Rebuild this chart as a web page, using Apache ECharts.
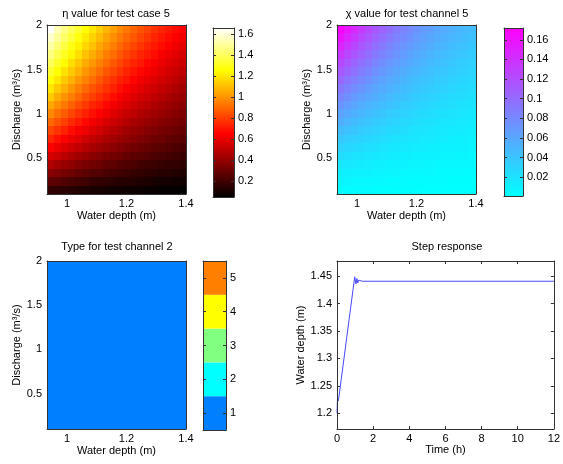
<!DOCTYPE html>
<html>
<head>
<meta charset="utf-8">
<script src="https://cdn.jsdelivr.net/npm/echarts@6/dist/echarts.min.js"></script>
<style>
html, body { margin: 0; padding: 0; background: #fff; }
#chart { width: 563px; height: 464px; }
</style>
</head>
<body>
<div id="chart"></div>
<script>
// Cell centres of the parameter grid
const depthCentres = [0.945, 0.968, 0.992, 1.015, 1.038, 1.062, 1.085, 1.108, 1.132, 1.155,
                      1.178, 1.202, 1.225, 1.248, 1.272, 1.295, 1.318, 1.342, 1.365, 1.388];
const dischargeCentres = [0.148, 0.243, 0.338, 0.433, 0.528, 0.623, 0.718, 0.813, 0.908, 1.003,
                          1.098, 1.193, 1.288, 1.383, 1.478, 1.573, 1.668, 1.763, 1.858, 1.953];
const mapXLimits = [0.933, 1.4];
const mapYLimits = [0.1, 2];

// eta, one row per discharge (lowest first), one column per depth
const etaRows = [
  [0.17,0.16,0.15,0.14,0.13,0.12,0.11,0.11,0.10,0.09,0.09,0.08,0.08,0.08,0.07,0.07,0.06,0.06,0.06,0.05],
  [0.27,0.26,0.24,0.22,0.21,0.20,0.18,0.17,0.16,0.15,0.14,0.14,0.13,0.12,0.12,0.11,0.10,0.10,0.09,0.09],
  [0.37,0.35,0.33,0.31,0.29,0.27,0.25,0.24,0.22,0.21,0.20,0.19,0.18,0.17,0.16,0.15,0.14,0.14,0.13,0.12],
  [0.47,0.44,0.41,0.39,0.36,0.34,0.32,0.30,0.28,0.27,0.25,0.24,0.23,0.21,0.20,0.19,0.18,0.17,0.17,0.16],
  [0.56,0.53,0.49,0.46,0.43,0.41,0.38,0.36,0.34,0.32,0.31,0.29,0.27,0.26,0.25,0.23,0.22,0.21,0.20,0.19],
  [0.65,0.61,0.57,0.54,0.51,0.48,0.45,0.42,0.40,0.38,0.36,0.34,0.32,0.30,0.29,0.27,0.26,0.25,0.23,0.22],
  [0.74,0.69,0.65,0.61,0.58,0.54,0.51,0.48,0.45,0.43,0.41,0.39,0.37,0.35,0.33,0.31,0.30,0.28,0.27,0.26],
  [0.82,0.77,0.73,0.68,0.64,0.61,0.57,0.54,0.51,0.48,0.46,0.43,0.41,0.39,0.37,0.35,0.33,0.32,0.30,0.29],
  [0.90,0.85,0.80,0.75,0.71,0.67,0.63,0.60,0.56,0.53,0.51,0.48,0.45,0.43,0.41,0.39,0.37,0.35,0.34,0.32],
  [0.98,0.92,0.87,0.82,0.77,0.73,0.69,0.65,0.62,0.58,0.55,0.52,0.50,0.47,0.45,0.43,0.41,0.39,0.37,0.35],
  [1.05,0.99,0.94,0.88,0.83,0.79,0.74,0.71,0.67,0.63,0.60,0.57,0.54,0.51,0.49,0.46,0.44,0.42,0.40,0.38],
  [1.13,1.06,1.00,0.95,0.90,0.84,0.80,0.76,0.72,0.68,0.64,0.61,0.58,0.55,0.53,0.50,0.48,0.45,0.43,0.41],
  [1.20,1.13,1.07,1.01,0.95,0.90,0.85,0.81,0.77,0.73,0.69,0.65,0.62,0.59,0.56,0.54,0.51,0.49,0.46,0.44],
  [1.27,1.20,1.13,1.07,1.01,0.96,0.91,0.86,0.81,0.77,0.73,0.70,0.66,0.63,0.60,0.57,0.55,0.52,0.50,0.47],
  [1.33,1.26,1.19,1.13,1.07,1.01,0.96,0.91,0.86,0.82,0.78,0.74,0.70,0.67,0.64,0.61,0.58,0.55,0.53,0.50],
  [1.40,1.32,1.25,1.18,1.12,1.06,1.01,0.96,0.91,0.86,0.82,0.78,0.74,0.71,0.67,0.64,0.61,0.58,0.56,0.53],
  [1.46,1.38,1.31,1.24,1.18,1.11,1.06,1.01,0.95,0.91,0.86,0.82,0.78,0.74,0.71,0.68,0.64,0.61,0.59,0.56],
  [1.52,1.44,1.36,1.29,1.23,1.16,1.11,1.05,1.00,0.95,0.90,0.86,0.82,0.78,0.74,0.71,0.68,0.65,0.62,0.59],
  [1.58,1.50,1.42,1.35,1.28,1.21,1.15,1.10,1.04,0.99,0.94,0.90,0.86,0.82,0.78,0.74,0.71,0.68,0.65,0.62],
  [1.66,1.55,1.47,1.40,1.33,1.26,1.20,1.14,1.08,1.03,0.98,0.94,0.89,0.85,0.81,0.77,0.74,0.71,0.68,0.65]
];

// chi, same layout
const chiRows = [
  [0.004,0.003,0.003,0.003,0.003,0.002,0.002,0.002,0.002,0.002,0.002,0.002,0.001,0.001,0.001,0.001,0.001,0.001,0.001,0.001],
  [0.008,0.007,0.006,0.006,0.005,0.005,0.005,0.004,0.004,0.004,0.003,0.003,0.003,0.003,0.003,0.003,0.002,0.002,0.002,0.002],
  [0.012,0.011,0.010,0.010,0.009,0.008,0.008,0.007,0.007,0.006,0.006,0.005,0.005,0.005,0.004,0.004,0.004,0.004,0.003,0.003],
  [0.018,0.017,0.015,0.014,0.013,0.012,0.011,0.010,0.010,0.009,0.008,0.008,0.007,0.007,0.006,0.006,0.006,0.005,0.005,0.005],
  [0.024,0.022,0.020,0.019,0.017,0.016,0.015,0.014,0.013,0.012,0.011,0.010,0.010,0.009,0.009,0.008,0.008,0.007,0.007,0.006],
  [0.031,0.028,0.026,0.024,0.022,0.021,0.019,0.018,0.016,0.015,0.014,0.013,0.013,0.012,0.011,0.010,0.010,0.009,0.009,0.008],
  [0.038,0.035,0.032,0.030,0.028,0.025,0.024,0.022,0.020,0.019,0.018,0.017,0.015,0.015,0.014,0.013,0.012,0.011,0.011,0.010],
  [0.046,0.042,0.039,0.036,0.033,0.031,0.029,0.026,0.025,0.023,0.021,0.020,0.019,0.017,0.016,0.015,0.014,0.014,0.013,0.012],
  [0.055,0.050,0.046,0.042,0.039,0.036,0.034,0.031,0.029,0.027,0.025,0.023,0.022,0.021,0.019,0.018,0.017,0.016,0.015,0.014],
  [0.063,0.058,0.053,0.049,0.046,0.042,0.039,0.036,0.034,0.031,0.029,0.027,0.026,0.024,0.022,0.021,0.020,0.019,0.018,0.016],
  [0.073,0.067,0.061,0.056,0.052,0.048,0.045,0.042,0.039,0.036,0.034,0.031,0.029,0.027,0.026,0.024,0.023,0.021,0.020,0.019],
  [0.082,0.076,0.069,0.064,0.059,0.055,0.051,0.047,0.044,0.041,0.038,0.035,0.033,0.031,0.029,0.027,0.026,0.024,0.023,0.021],
  [0.092,0.085,0.078,0.072,0.066,0.061,0.057,0.053,0.049,0.046,0.043,0.040,0.037,0.035,0.033,0.031,0.029,0.027,0.025,0.024],
  [0.103,0.094,0.087,0.080,0.074,0.068,0.063,0.059,0.055,0.051,0.047,0.044,0.041,0.039,0.036,0.034,0.032,0.030,0.028,0.027],
  [0.113,0.104,0.096,0.088,0.082,0.075,0.070,0.065,0.060,0.056,0.052,0.049,0.046,0.043,0.040,0.038,0.035,0.033,0.031,0.029],
  [0.124,0.114,0.105,0.097,0.090,0.083,0.077,0.071,0.066,0.062,0.058,0.054,0.050,0.047,0.044,0.041,0.039,0.036,0.034,0.032],
  [0.136,0.125,0.115,0.106,0.098,0.090,0.084,0.078,0.072,0.067,0.063,0.058,0.055,0.051,0.048,0.045,0.042,0.040,0.038,0.035],
  [0.148,0.136,0.125,0.115,0.106,0.098,0.091,0.084,0.078,0.073,0.068,0.064,0.060,0.056,0.052,0.049,0.046,0.043,0.041,0.038],
  [0.160,0.147,0.135,0.124,0.115,0.106,0.098,0.091,0.085,0.079,0.074,0.069,0.064,0.060,0.056,0.053,0.050,0.047,0.044,0.042],
  [0.172,0.158,0.145,0.134,0.124,0.114,0.106,0.099,0.091,0.085,0.080,0.074,0.069,0.065,0.061,0.057,0.054,0.050,0.048,0.045]
];

// flow type class per cell, same layout
const typeRows = [
  [1,1,1,1,1,1,1,1,1,1,1,1,1,1,1,1,1,1,1,1],
  [1,1,1,1,1,1,1,1,1,1,1,1,1,1,1,1,1,1,1,1],
  [1,1,1,1,1,1,1,1,1,1,1,1,1,1,1,1,1,1,1,1],
  [1,1,1,1,1,1,1,1,1,1,1,1,1,1,1,1,1,1,1,1],
  [1,1,1,1,1,1,1,1,1,1,1,1,1,1,1,1,1,1,1,1],
  [1,1,1,1,1,1,1,1,1,1,1,1,1,1,1,1,1,1,1,1],
  [1,1,1,1,1,1,1,1,1,1,1,1,1,1,1,1,1,1,1,1],
  [1,1,1,1,1,1,1,1,1,1,1,1,1,1,1,1,1,1,1,1],
  [1,1,1,1,1,1,1,1,1,1,1,1,1,1,1,1,1,1,1,1],
  [1,1,1,1,1,1,1,1,1,1,1,1,1,1,1,1,1,1,1,1],
  [1,1,1,1,1,1,1,1,1,1,1,1,1,1,1,1,1,1,1,1],
  [1,1,1,1,1,1,1,1,1,1,1,1,1,1,1,1,1,1,1,1],
  [1,1,1,1,1,1,1,1,1,1,1,1,1,1,1,1,1,1,1,1],
  [1,1,1,1,1,1,1,1,1,1,1,1,1,1,1,1,1,1,1,1],
  [1,1,1,1,1,1,1,1,1,1,1,1,1,1,1,1,1,1,1,1],
  [1,1,1,1,1,1,1,1,1,1,1,1,1,1,1,1,1,1,1,1],
  [1,1,1,1,1,1,1,1,1,1,1,1,1,1,1,1,1,1,1,1],
  [1,1,1,1,1,1,1,1,1,1,1,1,1,1,1,1,1,1,1,1],
  [1,1,1,1,1,1,1,1,1,1,1,1,1,1,1,1,1,1,1,1],
  [1,1,1,1,1,1,1,1,1,1,1,1,1,1,1,1,1,1,1,1]
];
const typeLevels = [1, 2, 3, 4, 5];

// step response of the water depth
const stepTime  = [0, 0.03, 0.06, 0.1, 0.98, 1.05, 1.1, 1.15, 1.2, 1.27, 1.4, 12];
const stepDepth = [1.20, 1.23, 1.222, 1.228, 1.449, 1.436, 1.446, 1.438, 1.443, 1.440, 1.441, 1.441];

// tick labels
const mapXTicks = [1, 1.2, 1.4];
const mapYTicks = [0.5, 1, 1.5, 2];
const etaTicks = [0.2, 0.4, 0.6, 0.8, 1, 1.2, 1.4, 1.6];
const chiTicks = [0.02, 0.04, 0.06, 0.08, 0.1, 0.12, 0.14, 0.16];
const stepXTicks = [0, 2, 4, 6, 8, 10, 12];
const stepYTicks = [1.2, 1.25, 1.3, 1.35, 1.4, 1.45];
const stepYLimits = [1.171, 1.478];

// colour maps
const hotMap = ['#000000', '#550000', '#aa0000', '#ff0000', '#ff5500', '#ffaa00', '#ffff00', '#ffff80', '#ffffff'];
const coolMap = ['#00ffff', '#ff00ff'];
const typeColors = ['#0080ff', '#00ffff', '#80ff80', '#ffff00', '#ff8000'];

const FONT = 'Liberation Sans';
const TXT = { fontFamily: FONT, fontSize: 11, color: '#000' };
const LINE = { color: '#333', width: 1 };

// cell boundaries halfway between centres, outer ones on the axis limits
function cellEdges(c, lim) {
  const e = [lim[0]];
  for (let i = 1; i < c.length; i++) e.push((c[i - 1] + c[i]) / 2);
  e.push(lim[1]);
  return e;
}
const xEdges = cellEdges(depthCentres, mapXLimits);
const yEdges = cellEdges(dischargeCentres, mapYLimits);

function flat(rows) { return rows.reduce((a, r) => a.concat(r), []); }
const etaMin = Math.min(...flat(etaRows)), etaMax = Math.max(...flat(etaRows));
const chiMin = Math.min(...flat(chiRows)), chiMax = Math.max(...flat(chiRows));

function gridData(rows) {
  const out = [];
  rows.forEach((row, j) => row.forEach((v, i) => out.push([depthCentres[i], dischargeCentres[j], v, i, j])));
  return out;
}

function cellRenderer(colorOf) {
  return function (params, api) {
    const i = api.value(3), j = api.value(4);
    const a = api.coord([xEdges[i], yEdges[j + 1]]);
    const b = api.coord([xEdges[i + 1], yEdges[j]]);
    const x0 = Math.round(a[0]), y0 = Math.round(a[1]);
    const x1 = Math.round(b[0]), y1 = Math.round(b[1]);
    return { type: 'rect', shape: { x: x0, y: y0, width: x1 - x0, height: y1 - y0 },
             style: { fill: colorOf(api) } };
  };
}

function gradientBar(stops) {
  return function (params, api) {
    const a = api.coord([0, api.value(2)]);
    const b = api.coord([1, api.value(1)]);
    const cs = stops.map((c, k) => ({ offset: k / (stops.length - 1), color: c }));
    return { type: 'rect', shape: { x: a[0], y: a[1], width: b[0] - a[0], height: b[1] - a[1] },
             style: { fill: new echarts.graphic.LinearGradient(0, 1, 0, 0, cs) } };
  };
}

// axis helpers
function frameAxis(extra) {
  return Object.assign({
    type: 'value', z: 10, splitLine: { show: false },
    axisLine: { show: true, onZero: false, lineStyle: LINE },
    axisTick: { show: false }, axisLabel: { show: false }
  }, extra);
}
function labelled(ticks, margin) {
  return { show: true, customValues: ticks, margin: margin, fontFamily: FONT, fontSize: 11, color: '#000' };
}
function inTicks(ticks) {
  return { show: true, inside: true, length: 3, customValues: ticks, lineStyle: LINE };
}

const grids = [
  { left: 47,  top: 25,  width: 139, height: 169 },  // eta map
  { left: 213, top: 28,  width: 21,  height: 169 },  // eta colour bar
  { left: 337, top: 25,  width: 139, height: 169 },  // chi map
  { left: 504, top: 28,  width: 19,  height: 168 },  // chi colour bar
  { left: 47,  top: 261, width: 139, height: 168 },  // type map
  { left: 203, top: 261, width: 23,  height: 169 },  // type colour bar
  { left: 337, top: 261, width: 220, height: 168 }   // step response
];

const xAxes = [], yAxes = [];
function mapAxes(g) {
  xAxes.push(frameAxis({ gridIndex: g, position: 'bottom', min: mapXLimits[0], max: mapXLimits[1],
    axisLabel: labelled(mapXTicks, 4), name: 'Water depth (m)', nameLocation: 'middle',
    nameGap: 16, nameTextStyle: TXT }));
  xAxes.push(frameAxis({ gridIndex: g, position: 'top', min: mapXLimits[0], max: mapXLimits[1] }));
  yAxes.push(frameAxis({ gridIndex: g, position: 'left', min: mapYLimits[0], max: mapYLimits[1],
    axisLabel: labelled(mapYTicks, 5), name: 'Discharge (m³/s)', nameLocation: 'middle',
    nameGap: 25, nameTextStyle: TXT }));
  yAxes.push(frameAxis({ gridIndex: g, position: 'right', min: mapYLimits[0], max: mapYLimits[1] }));
}
function barAxes(g, lo, hi, ticks) {
  xAxes.push(frameAxis({ gridIndex: g, position: 'bottom', min: 0, max: 1 }));
  xAxes.push(frameAxis({ gridIndex: g, position: 'top', min: 0, max: 1 }));
  yAxes.push(frameAxis({ gridIndex: g, position: 'left', min: lo, max: hi, axisTick: inTicks(ticks) }));
  yAxes.push(frameAxis({ gridIndex: g, position: 'right', min: lo, max: hi,
    axisTick: inTicks(ticks), axisLabel: labelled(ticks, 4) }));
}

mapAxes(0);
barAxes(1, etaMin, etaMax, etaTicks);
mapAxes(2);
barAxes(3, chiMin, chiMax, chiTicks);
mapAxes(4);
barAxes(5, typeLevels[0] - 0.5, typeLevels[typeLevels.length - 1] + 0.5, typeLevels);
// step response axes (boxed, ticks inside on every side)
xAxes.push(frameAxis({ gridIndex: 6, position: 'bottom', min: stepXTicks[0], max: stepXTicks[stepXTicks.length - 1],
  axisTick: inTicks(stepXTicks), axisLabel: labelled(stepXTicks, 4),
  name: 'Time (h)', nameLocation: 'middle', nameGap: 14, nameTextStyle: TXT }));
xAxes.push(frameAxis({ gridIndex: 6, position: 'top', min: stepXTicks[0], max: stepXTicks[stepXTicks.length - 1],
  axisTick: inTicks(stepXTicks) }));
yAxes.push(frameAxis({ gridIndex: 6, position: 'left', min: stepYLimits[0], max: stepYLimits[1],
  axisTick: inTicks(stepYTicks), axisLabel: labelled(stepYTicks, 5),
  name: 'Water depth (m)', nameLocation: 'middle', nameGap: 30, nameTextStyle: TXT }));
yAxes.push(frameAxis({ gridIndex: 6, position: 'right', min: stepYLimits[0], max: stepYLimits[1],
  axisTick: inTicks(stepYTicks) }));

const series = [
  { type: 'custom', xAxisIndex: 0, yAxisIndex: 0, data: gridData(etaRows),
    renderItem: cellRenderer(api => api.visual('color')), silent: true },
  { type: 'custom', xAxisIndex: 2, yAxisIndex: 3, data: [[0, etaMin, etaMax]],
    renderItem: gradientBar(hotMap), silent: true },
  { type: 'custom', xAxisIndex: 4, yAxisIndex: 4, data: gridData(chiRows),
    renderItem: cellRenderer(api => api.visual('color')), silent: true },
  { type: 'custom', xAxisIndex: 6, yAxisIndex: 7, data: [[0, chiMin, chiMax]],
    renderItem: gradientBar(coolMap), silent: true },
  { type: 'custom', xAxisIndex: 8, yAxisIndex: 8, data: gridData(typeRows),
    renderItem: cellRenderer(api => typeColors[typeLevels.indexOf(api.value(2))]), silent: true },
  { type: 'custom', xAxisIndex: 10, yAxisIndex: 11, data: typeLevels.map(v => [0, v]),
    renderItem: function (params, api) {
      const v = api.value(1);
      const a = api.coord([0, v + 0.5]);
      const b = api.coord([1, v - 0.5]);
      return { type: 'rect', shape: { x: a[0], y: a[1], width: b[0] - a[0], height: b[1] - a[1] },
               style: { fill: typeColors[typeLevels.indexOf(v)] } };
    }, silent: true },
  { type: 'line', xAxisIndex: 12, yAxisIndex: 12, showSymbol: false, symbol: 'none',
    data: stepTime.map((t, k) => [t, stepDepth[k]]),
    lineStyle: { color: '#4848ff', width: 1 }, silent: true }
];

function titleText(text, x, y) {
  return { type: 'text', x: x, y: y, silent: true,
    style: { text: text, align: 'center', verticalAlign: 'middle', font: '11px "' + FONT + '"', fill: '#000' } };
}

const option = {
  animation: false,
  backgroundColor: '#fff',
  textStyle: { fontFamily: FONT },
  grid: grids,
  xAxis: xAxes,
  yAxis: yAxes,
  visualMap: [
    { type: 'continuous', show: false, seriesIndex: 0, dimension: 2, min: etaMin, max: etaMax, inRange: { color: hotMap } },
    { type: 'continuous', show: false, seriesIndex: 2, dimension: 2, min: chiMin, max: chiMax, inRange: { color: coolMap } }
  ],
  graphic: [
    titleText('η value for test case 5', 116, 14),
    titleText('χ value for test channel 5', 407, 14),
    titleText('Type for test channel 2', 117, 247),
    titleText('Step response', 447, 247)
  ],
  series: series
};

const chart = echarts.init(document.getElementById('chart'), null, { renderer: 'canvas' });
chart.setOption(option);
</script>
</body>
</html>
